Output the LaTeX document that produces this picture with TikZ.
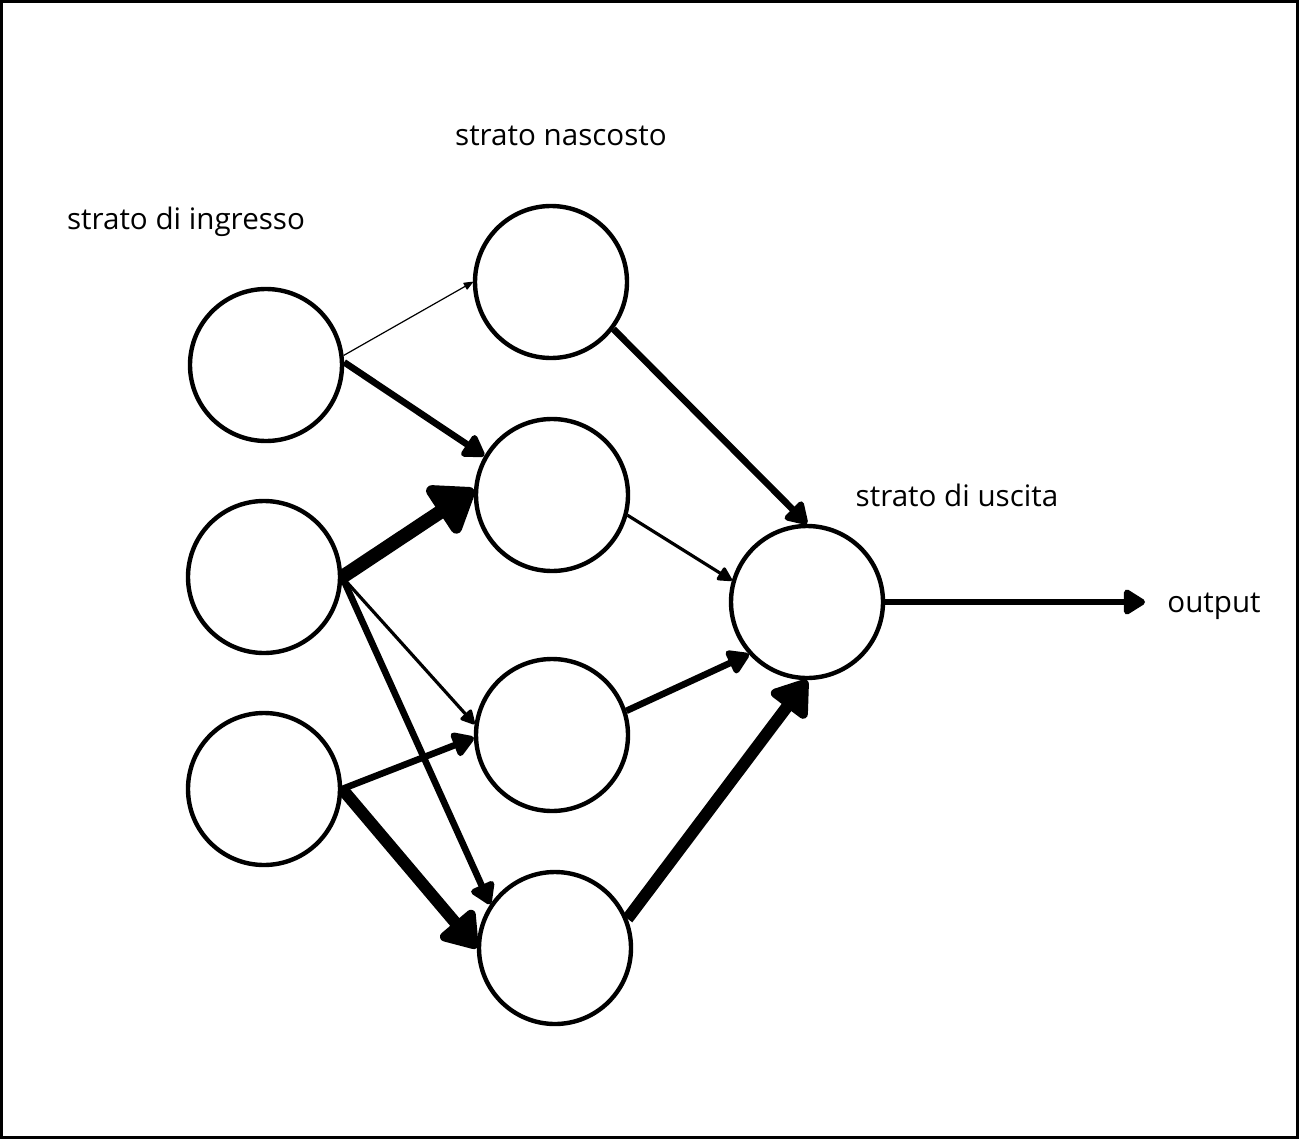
\documentclass[tikz,border=0pt]{standalone}
\usepackage{fontspec}
\setmainfont{Open Sans}
\usetikzlibrary{arrows.meta,positioning}

\begin{document}
\begin{tikzpicture}
		[x=0.5pt, y=-0.5pt,
		neuron/.style={circle, draw, line width=2.2pt, minimum size=76pt, inner sep=0pt},
		layer/.style={font=\fontsize{14.8}{17}\selectfont, inner sep=0pt},
		thin/.style={line width=0.6pt, -{Triangle[round, length=5pt, width=4pt]}},
		medium/.style={line width=1.6pt, -{Triangle[round, length=8pt, width=8pt]}},
		thick/.style={line width=3.3pt, -{Triangle[round, length=12pt, width=14pt]}},
		heavy/.style={line width=6pt, -{Triangle[round, length=19pt, width=25pt]}},
		heaviest/.style={line width=7pt, -{Triangle[round, length=23pt, width=32pt]}}]
		\useasboundingbox (0,0) rectangle (1299,1139);
		\draw[line width=1.5pt] (1.5,1.5) rectangle (1297.5,1137.5);
		
		\node[neuron] (i1) at (266,365) {};
		\node[neuron] (i2) at (264,577) {};
		\node[neuron] (i3) at (264,789) {};
		\node[neuron] (h1) at (551,282) {};
		\node[neuron] (h2) at (552,495) {};
		\node[neuron] (h3) at (552,735) {};
		\node[neuron] (h4) at (555,948) {};
		\node[neuron] (o) at (807,602) {};
		\coordinate (out) at (1145,602);
		
		\node[layer] (input) at (186,222) {strato di ingresso};
		\node[layer] (hidden) at (561,136) {strato nascosto};
		\node[layer] (outlayer) at (957,495) {strato di uscita};
		\node[layer, right=11pt of out, yshift=-2pt] (outlabel) {output};
		
		\draw[thin] (i1.7) -- (h1.west);
		\draw[thick] (i1.2) -- (h2.150);
		\draw[heaviest] (i2.east) -- (h2.176);
		\draw[medium] (i2.east) -- (h3.172);
		\draw[thick] (i2.east) -- (h4.146);
		\draw[thick] (i3.east) -- (h3.182);
		\draw[heavy] (i3.east) -- (h4.west);
		\draw[thick] (h1.-37) -- (o.north);
		\draw[medium] (h2.-15) -- (o.164);
		\draw[thick] (h3.18) -- (o.222);
		\draw[heavy] (h4.22) -- (o.south);
		\draw[thick] (o.east) -- (out);
		\end{tikzpicture}
\end{document}
